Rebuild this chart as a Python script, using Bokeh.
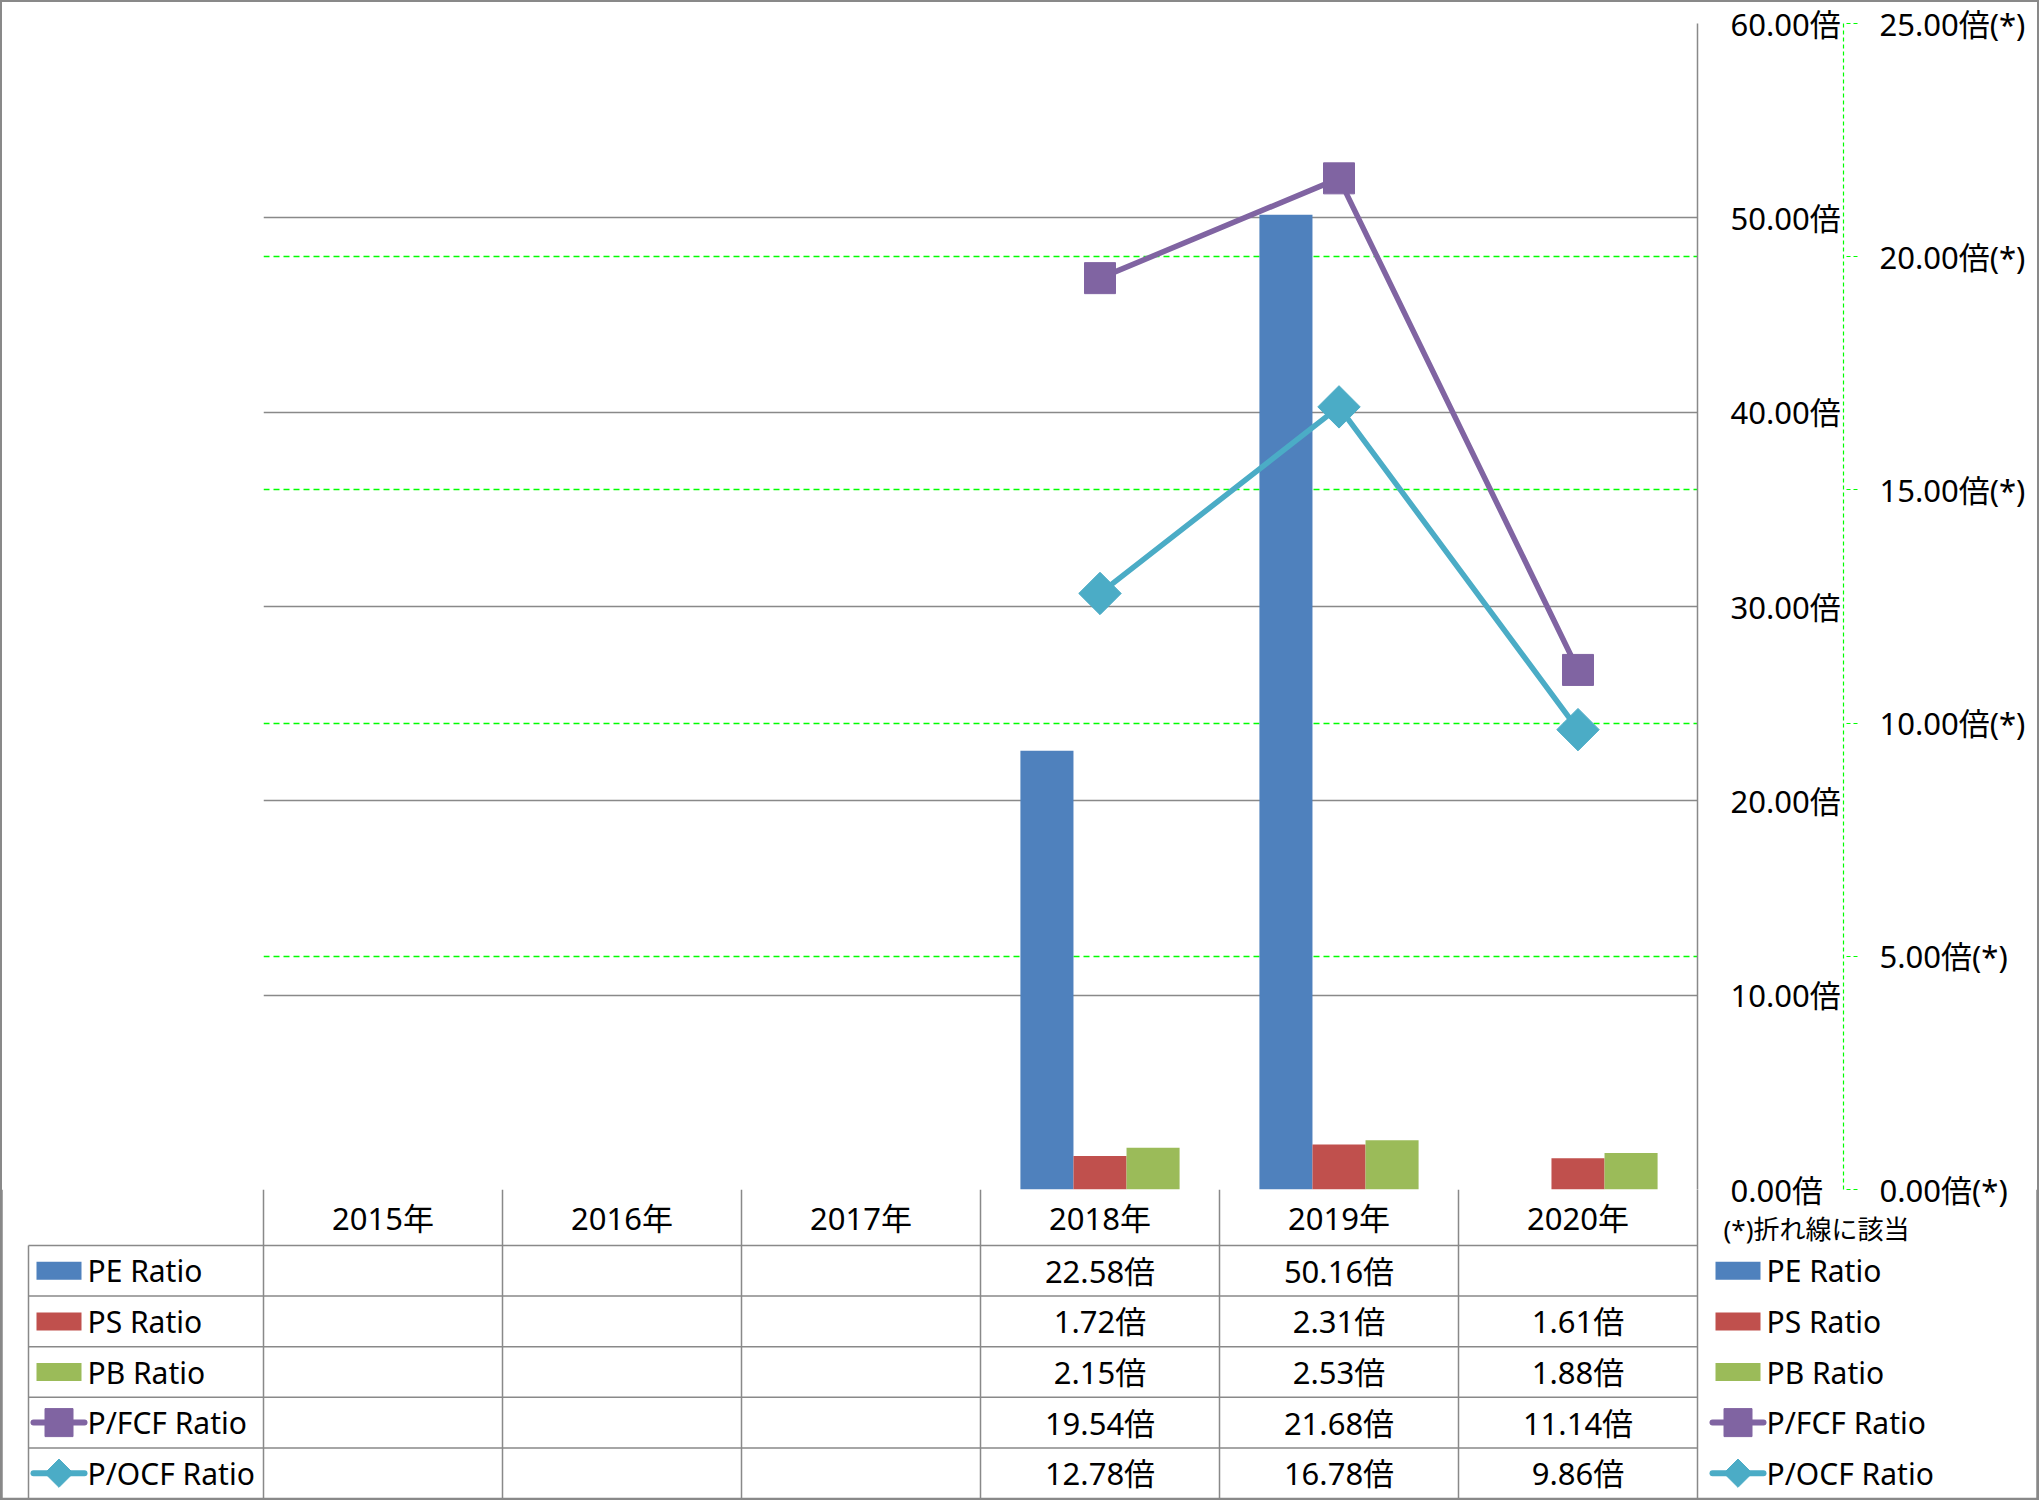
import math
from bokeh.plotting import figure
from bokeh.models import (Range1d, LinearAxis, FixedTicker, PrintfTickFormatter,
                          Grid, ColumnDataSource, LinearScale)
from bokeh.layouts import column
from bokeh.core.properties import value
from bokeh.embed import file_html
from bokeh.resources import INLINE

# ---------------- data ----------------
years = ["2015年", "2016年", "2017年", "2018年", "2019年", "2020年"]
pe_ratio = [None, None, None, 22.58, 50.16, None]
ps_ratio = [None, None, None, 1.72, 2.31, 1.61]
pb_ratio = [None, None, None, 2.15, 2.53, 1.88]
pfcf_ratio = [None, None, None, 19.54, 21.68, 11.14]
pocf_ratio = [None, None, None, 12.78, 16.78, 9.86]
bar_names = ["PE Ratio", "PS Ratio", "PB Ratio"]
line_names = ["P/FCF Ratio", "P/OCF Ratio"]
left_ticks = [0, 10, 20, 30, 40, 50, 60]
right_ticks = [0, 5, 10, 15, 20, 25]
note_text = "(*)折れ線に該当"

bar_series = [pe_ratio, ps_ratio, pb_ratio]
line_series = [pfcf_ratio, pocf_ratio]
bar_colors = ["#4F81BD", "#C0504D", "#9BBB59"]
line_colors = ["#8064A2", "#4BACC6"]

# ---------------- layout constants ----------------
W, H = 2039, 1500
FL, FR, FT, FB = 263, 1697, 23, 1189
TOP_H = 1215                 # chart canvas height (labels of the 0 tick fit inside)
OVER = TOP_H - FB            # table canvas overlaps the chart canvas by this much
FONT = "'Noto Sans', 'Noto Sans CJK JP'"
FS = "30px"
FS_NUM = "31px"
GRAY = "#898989"
GREEN = "#00FF00"
BW = 0.222

# category index -> center position on a linear axis (one unit per year)
cat_pos = {y: i + 0.5 for i, y in enumerate(years)}

# ---------------- chart ----------------
p = figure(width=W, height=TOP_H,
           x_range=Range1d(0, len(years)), y_range=Range1d(0, 60),
           output_backend="svg", toolbar_location=None,
           x_axis_location=None, y_axis_location=None,
           min_border_left=FL, min_border_right=W - FR,
           min_border_top=FT, min_border_bottom=TOP_H - FB,
           frame_align=False)
p.extra_y_ranges = {"y2": Range1d(0, 25)}
p.extra_y_scales = {"y2": LinearScale()}
p.center = []
p.outline_line_color = None
p.background_fill_color = "white"
p.border_fill_color = None

p.add_layout(Grid(dimension=1, ticker=FixedTicker(ticks=left_ticks),
                  grid_line_color=GRAY, grid_line_width=1.5), "center")
p.add_layout(Grid(dimension=1, y_range_name="y2", ticker=FixedTicker(ticks=right_ticks[1:-1]),
                  grid_line_color=GREEN, grid_line_dash="6 4", grid_line_width=1.5), "center")

ax1 = LinearAxis(ticker=FixedTicker(ticks=left_ticks),
                 formatter=PrintfTickFormatter(format="%.2f倍"),
                 axis_line_color=GRAY, axis_line_width=1.5,
                 major_tick_line_color=None, minor_tick_line_color=None,
                 major_tick_out=0, major_tick_in=0,
                 major_label_standoff=33, major_label_text_font=FONT,
                 major_label_text_font_size="31px", major_label_text_color="black")
p.add_layout(ax1, "right")
ax2 = LinearAxis(y_range_name="y2", ticker=FixedTicker(ticks=right_ticks),
                 formatter=PrintfTickFormatter(format="%.2f倍(*)"),
                 axis_line_color=GREEN, axis_line_dash="4 3", axis_line_width=1.2,
                 major_tick_line_color=GREEN, major_tick_line_dash="4 3",
                 major_tick_out=14, major_tick_in=0, minor_tick_line_color=None,
                 major_label_standoff=22, major_label_text_font=FONT,
                 major_label_text_font_size="31px", major_label_text_color="black")
p.add_layout(ax2, "right")

offsets = [-BW, 0.0, BW]
for vals, col, off in zip(bar_series, bar_colors, offsets):
    xs = [cat_pos[y] + off for y, v in zip(years, vals) if v is not None]
    tops = [v for v in vals if v is not None]
    src = ColumnDataSource(dict(x=xs, top=tops))
    p.vbar(x="x", top="top", width=BW, source=src, fill_color=col, line_color=None)

markers = [("square", 0.0, 31), ("square", math.pi / 4, 30)]
for vals, col, (mk, ang, sz) in zip(line_series, line_colors, markers):
    xs = [cat_pos[y] for y, v in zip(years, vals) if v is not None]
    ys = [v for v in vals if v is not None]
    p.line(x=xs, y=ys, y_range_name="y2", line_width=5.5, line_color=col)
    p.scatter(x=xs, y=ys, y_range_name="y2", marker=mk, angle=ang, size=sz,
              fill_color=col, line_color=col)

# ---------------- data table (canvas starts at the chart's zero line) ----------------
TH = H - FB
t = figure(width=W, height=TH, x_range=Range1d(0, W), y_range=Range1d(TH, 0),
           output_backend="svg", toolbar_location=None,
           x_axis_location=None, y_axis_location=None, min_border=0,
           frame_align=False, margin=(-OVER, 0, 0, 0))
t.center = []
t.outline_line_color = None
t.background_fill_color = None
t.border_fill_color = None

COLW = (FR - FL) / len(years)
ROW0 = 1245 - FB
BOTTOM = TH - 2
ROWH = (BOTTOM - ROW0) / 5
TLEFT = 28
col_x = [FL + (i + 0.5) * COLW for i in range(len(years))]
row_y = [ROW0 + (r + 0.5) * ROWH for r in range(5)]

# grid lines
vx = [FL + k * COLW for k in range(len(years) + 1)]
t.segment(x0=vx, y0=[0] * len(vx), x1=vx, y1=[BOTTOM] * len(vx), line_color=GRAY, line_width=1.5)
t.segment(x0=[TLEFT], y0=[ROW0], x1=[TLEFT], y1=[BOTTOM], line_color=GRAY, line_width=1.5)
hy = [ROW0 + r * ROWH for r in range(5)]
t.segment(x0=[TLEFT] * 5, y0=hy, x1=[FR] * 5, y1=hy, line_color=GRAY, line_width=1.5)
# outer border (lower part)
t.segment(x0=[1, W - 2, 0], y0=[0, 0, TH - 1.5], x1=[1, W - 2, W], y1=[TH, TH, TH - 1.5],
          line_color=GRAY, line_width=2.5)

# header
t.text(x=col_x, y=[(1245 - FB) / 2] * len(years), text=years,
       text_font=value(FONT), text_font_size=FS_NUM, text_align="center",
       text_baseline="middle", text_color="black")

# values
all_series = bar_series + line_series
vx_, vy_, vt_ = [], [], []
for r, vals in enumerate(all_series):
    for i, v in enumerate(vals):
        if v is not None:
            vx_.append(col_x[i]); vy_.append(row_y[r]); vt_.append(f"{v:.2f}倍")
t.text(x=vx_, y=vy_, text=vt_, text_font=value(FONT), text_font_size=FS_NUM,
       text_align="center", text_baseline="middle", text_color="black")


def draw_keys(x0):
    names = bar_names + line_names
    for r in range(3):
        t.rect(x=[x0 + 22.5], y=[row_y[r]], width=45, height=18,
               fill_color=bar_colors[r], line_color=None)
    key_mk = [("square", 0.0, 28), ("square", math.pi / 4, 20)]
    for j in range(2):
        r = 3 + j
        t.segment(x0=[x0 - 3], y0=[row_y[r]], x1=[x0 + 48], y1=[row_y[r]],
                  line_color=line_colors[j], line_width=6, line_cap="round")
        mk, ang, sz = key_mk[j]
        t.scatter(x=[x0 + 22.5], y=[row_y[r]], marker=mk, angle=ang, size=sz,
                  fill_color=line_colors[j], line_color=line_colors[j])
    t.text(x=[x0 + 51] * 5, y=row_y, text=names, text_font=value(FONT), text_font_size=FS,
           text_align="left", text_baseline="middle", text_color="black")


draw_keys(36)
draw_keys(1715)

t.text(x=[1723], y=[1228 - FB], text=[note_text], text_font=value(FONT),
       text_font_size="26px", text_align="left", text_baseline="middle", text_color="black")

layout = column(p, t, spacing=0,
                styles={"outline": f"2px solid {GRAY}", "outline-offset": "-2px",
                        "background-color": "white"})

open("out.html", "w").write(file_html(layout, INLINE))
